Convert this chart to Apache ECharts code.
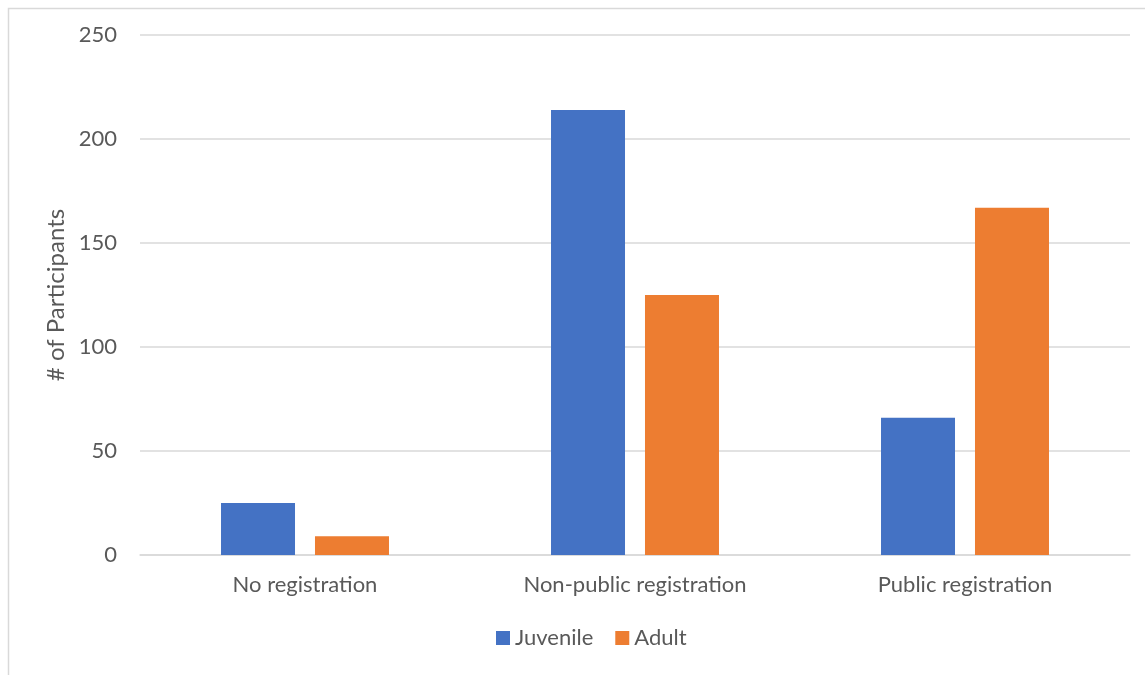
<!DOCTYPE html>
<html>
<head>
<meta charset="utf-8">
<script src="https://cdn.jsdelivr.net/npm/echarts@6/dist/echarts.min.js"></script>
<style>html,body{margin:0;padding:0;background:#fff;}#c{width:1145px;height:675px;}</style>
</head>
<body>
<div id="c"></div>
<script>
const categories = ['No registration', 'Non-public registration', 'Public registration'];
const juvenile = [25, 214, 66];
const adult = [9, 125, 167];
const seriesNames = ['Juvenile', 'Adult'];
const yAxisName = '# of Participants';

const font = 'Lato, "Open Sans", sans-serif';
const chart = echarts.init(document.getElementById('c'), null, {renderer: 'canvas'});
chart.setOption({
  animation: false,
  backgroundColor: '#fff',
  graphic: [{
    type: 'rect', left: 6, top: 6, shape: {x: 0, y: 0, width: 1160, height: 690},
    style: {fill: 'none', stroke: '#d9d9d9', lineWidth: 1.5}, silent: true, z: -1
  }],
  grid: {left: 140, right: 15, top: 35, bottom: 120},
  xAxis: {
    type: 'category', data: categories,
    axisLine: {lineStyle: {color: '#d9d9d9', width: 1.5}},
    axisTick: {show: false},
    axisLabel: {color: '#595959', fontFamily: font, fontSize: 22, margin: 19}
  },
  yAxis: {
    type: 'value', min: 0, max: 250, interval: 50,
    name: yAxisName, nameLocation: 'middle', nameGap: 70,
    nameTextStyle: {color: '#595959', fontFamily: font, fontSize: 24},
    axisLine: {show: false}, axisTick: {show: false},
    axisLabel: {color: '#595959', fontFamily: font, fontSize: 22, margin: 23},
    splitLine: {lineStyle: {color: '#d9d9d9', width: 1.5}}
  },
  legend: {
    data: seriesNames, bottom: 21, left: 491, itemWidth: 14, itemHeight: 14, itemGap: 22,
    icon: 'rect',
    textStyle: {color: '#595959', fontFamily: font, fontSize: 22}
  },
  series: [
    {name: seriesNames[0], type: 'bar', data: juvenile, barWidth: 74, barGap: '27%', itemStyle: {color: '#4472C4'}},
    {name: seriesNames[1], type: 'bar', data: adult, barWidth: 74, barGap: '27%', itemStyle: {color: '#ED7D31'}}
  ]
});
</script>
</body>
</html>
